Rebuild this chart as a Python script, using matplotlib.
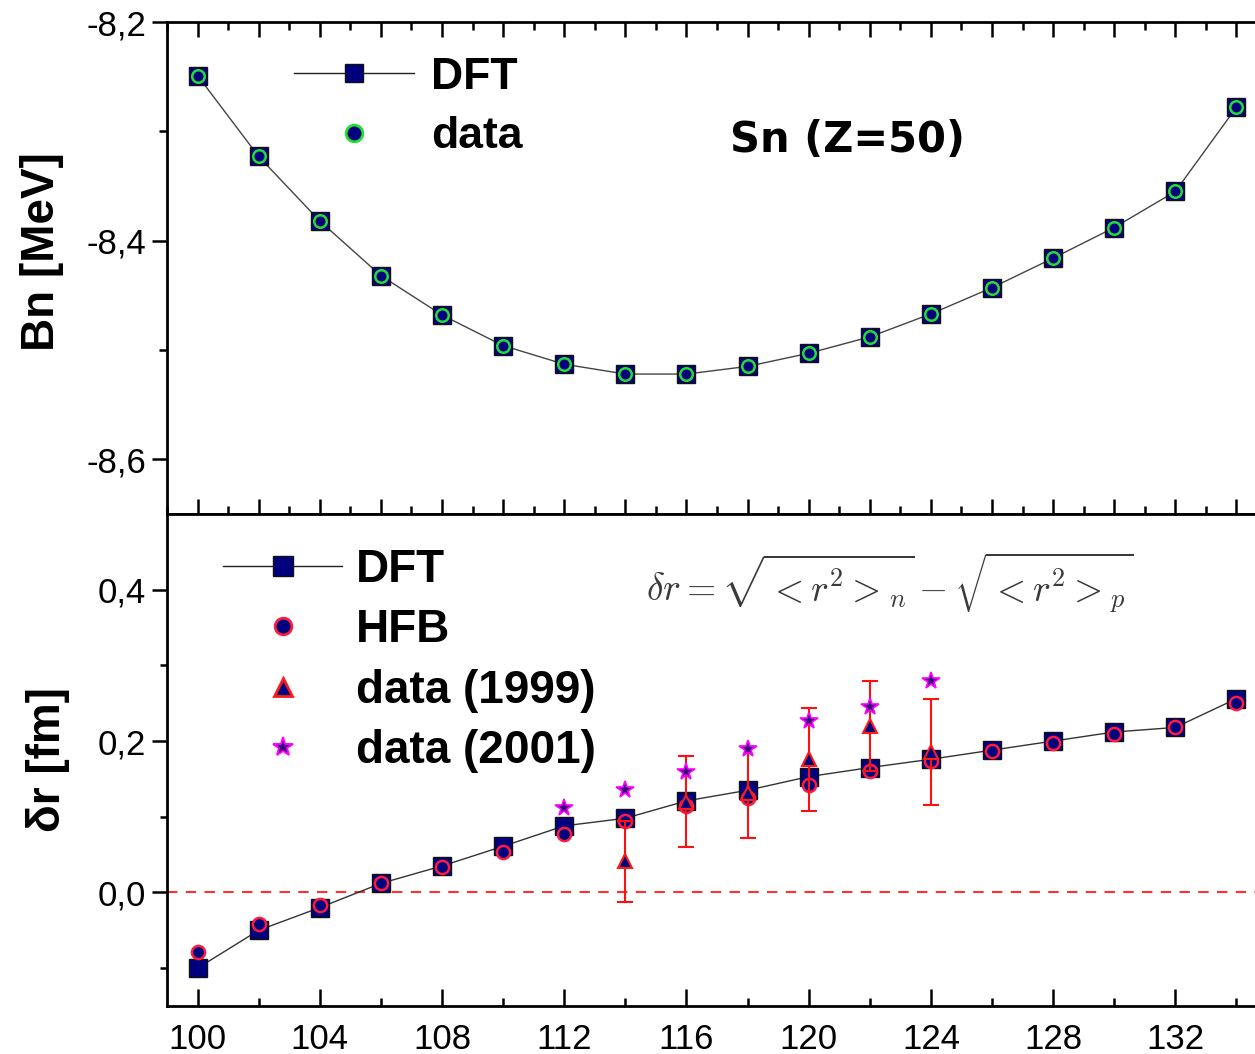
import matplotlib
matplotlib.use('Agg')
import matplotlib.pyplot as plt
from matplotlib.ticker import FixedLocator, MultipleLocator
from matplotlib.lines import Line2D

plt.rcParams['font.family'] = ['Liberation Sans', 'DejaVu Sans']
plt.rcParams['mathtext.fontset'] = 'cm'

# ---------------- data ----------------
N_top = [100, 102, 104, 106, 108, 110, 112, 114, 116, 118, 120, 122, 124, 126, 128, 130, 132, 134]
bn_dft = [-8.249, -8.323, -8.382, -8.432, -8.468, -8.496, -8.513, -8.522, -8.522,
          -8.515, -8.503, -8.488, -8.467, -8.443, -8.416, -8.388, -8.355, -8.278]
bn_data = [-8.249, -8.323, -8.382, -8.432, -8.468, -8.496, -8.513, -8.522, -8.522,
           -8.515, -8.503, -8.488, -8.467, -8.443, -8.416, -8.388, -8.355, -8.278]

N_bot = [100, 102, 104, 106, 108, 110, 112, 114, 116, 118, 120, 122, 124, 126, 128, 130, 132, 134]
dr_dft = [-0.100, -0.050, -0.020, 0.012, 0.035, 0.061, 0.088, 0.098, 0.121, 0.135,
          0.153, 0.165, 0.176, 0.188, 0.200, 0.212, 0.218, 0.256]
dr_hfb = [-0.079, -0.042, -0.016, 0.012, 0.034, 0.054, 0.077, 0.094, 0.114, 0.125,
          0.142, 0.161, 0.174, 0.187, 0.197, 0.209, 0.218, 0.250]
N_1999 = [114, 116, 118, 120, 122, 124]
dr_1999 = [0.041, 0.120, 0.132, 0.176, 0.220, 0.185]
err_1999 = [0.053, 0.060, 0.060, 0.068, 0.059, 0.070]
N_2001 = [112, 114, 116, 118, 120, 122, 124]
dr_2001 = [0.112, 0.136, 0.159, 0.190, 0.226, 0.245, 0.280]

top_yticks = [-8.2, -8.4, -8.6]
top_ylabels = ['-8,2', '-8,4', '-8,6']
bot_yticks = [0.0, 0.2, 0.4]
bot_ylabels = ['0,0', '0,2', '0,4']
bot_xticks = [100, 104, 108, 112, 116, 120, 124, 128, 132]
bot_xlabels = ['100', '104', '108', '112', '116', '120', '124', '128', '132']

# ---------------- figure ----------------
W, H = 1255, 1054
fig = plt.figure(figsize=(W / 100, H / 100), dpi=100)
L = 167 / W
Wd = 1100 / W
ax1 = fig.add_axes([L, 1 - 514 / H, Wd, 492 / H])
ax2 = fig.add_axes([L, 1 - 1006 / H, Wd, 492 / H])

navy = '#00007f'
spine_lw = 2.0
tick_fs = 25

# ---- top panel ----
ax1.plot(N_top, bn_dft, '-', color='#444444', lw=1.0, marker='s', ms=13,
         mfc=navy, mec='#111111', mew=1.0, zorder=2)
ax1.plot(N_top, bn_data, 'o', ms=9, mfc=navy, mec='#22dd33', mew=1.8, zorder=3)
ax1.set_xlim(99, 135)
ax1.set_ylim(-8.65, -8.2)
ax1.yaxis.set_major_locator(FixedLocator(top_yticks))
ax1.set_yticklabels(top_ylabels)
ax1.yaxis.set_minor_locator(FixedLocator([-8.3, -8.5]))
ax1.xaxis.set_major_locator(MultipleLocator(2))
ax1.xaxis.set_minor_locator(MultipleLocator(1))
ax1.tick_params(axis='x', which='both', direction='in', top=True, bottom=True,
                labelbottom=False, width=1.8)
ax1.tick_params(axis='x', which='major', length=11)
ax1.tick_params(axis='x', which='minor', length=6)
ax1.tick_params(axis='y', which='both', direction='out', right=False, width=1.8,
                labelsize=tick_fs, pad=4)
ax1.tick_params(axis='y', which='major', length=11)
ax1.tick_params(axis='y', which='minor', length=6)
for s in ax1.spines.values():
    s.set_linewidth(spine_lw)
ax1.set_ylabel('Bn [MeV]', fontsize=33, fontweight='bold')
ax1.yaxis.set_label_coords(-0.094, 0.5325)
ax1.text(0.512, 0.76, 'Sn (Z=50)', transform=ax1.transAxes, fontsize=30,
         fontweight='bold', family='DejaVu Sans', ha='left', va='center')
h_dft = Line2D([], [], color='#222222', lw=1.0, marker='s', ms=13, mfc=navy,
               mec='#111111', mew=1.0)
h_dat = Line2D([], [], ls='none', marker='o', ms=12, mfc=navy, mec='#22dd33', mew=2.0)
ax1.legend([h_dft, h_dat], ['DFT', 'data'], loc='upper left', frameon=False,
           bbox_to_anchor=(0.095, 0.975), handlelength=2.7,
           handletextpad=0.4, labelspacing=0.42, borderpad=0,
           prop={'weight': 'bold', 'size': 32})

# ---- bottom panel ----
ax2.axhline(0.0, color='#ff3030', lw=1.5, ls=(0, (5, 4)), zorder=1)
ax2.plot(N_bot, dr_dft, '-', color='#333333', lw=1.0, marker='s', ms=13,
         mfc=navy, mec='#111111', mew=1.0, zorder=2)
ax2.plot(N_bot, dr_hfb, 'o', ms=9.5, mfc=navy, mec='#ff1a40', mew=1.8, zorder=3)
ax2.errorbar(N_1999, dr_1999, yerr=err_1999, fmt='none', ecolor='#ff1010',
             elinewidth=1.5, capsize=6, capthick=1.5, zorder=4)
ax2.plot(N_1999, dr_1999, '^', ms=10, mfc=navy, mec='#ff1a1a', mew=1.5, zorder=5)
ax2.plot(N_2001, dr_2001, '*', ms=13, mfc='#3a0080', mec='#ff00ff', mew=1.2, zorder=6)
ax2.set_xlim(99, 135)
ax2.set_ylim(-0.15, 0.5)
ax2.xaxis.set_major_locator(FixedLocator(bot_xticks))
ax2.set_xticklabels(bot_xlabels)
ax2.xaxis.set_minor_locator(FixedLocator([102, 106, 110, 114, 118, 122, 126, 130, 134]))
ax2.yaxis.set_major_locator(FixedLocator(bot_yticks))
ax2.set_yticklabels(bot_ylabels)
ax2.yaxis.set_minor_locator(FixedLocator([-0.1, 0.1, 0.3]))
ax2.tick_params(axis='x', which='both', direction='in', top=False, width=1.8,
                labelsize=tick_fs, pad=12)
ax2.tick_params(axis='x', which='major', length=12)
ax2.tick_params(axis='x', which='minor', length=6)
ax2.tick_params(axis='y', which='both', direction='out', right=False, width=1.8,
                labelsize=tick_fs, pad=4)
ax2.tick_params(axis='y', which='major', length=11)
ax2.tick_params(axis='y', which='minor', length=5)
for s in ax2.spines.values():
    s.set_linewidth(spine_lw)
ax2.set_ylabel('δr [fm]', fontsize=33, fontweight='bold')
ax2.yaxis.set_label_coords(-0.088, 0.5)
ax2.text(0.657, 0.86, r'$\delta r = \sqrt{<r^2>_n} - \sqrt{<r^2>_p}$',
         transform=ax2.transAxes, fontsize=27, color='#3a3a3a', ha='center', va='center')
g_dft = Line2D([], [], color='#222222', lw=1.0, marker='s', ms=15, mfc=navy,
               mec='#111111', mew=1.0)
g_hfb = Line2D([], [], ls='none', marker='o', ms=12, mfc=navy, mec='#ff1a40', mew=2.0)
g_99 = Line2D([], [], ls='none', marker='^', ms=13, mfc=navy, mec='#ff1a1a', mew=2.0)
g_01 = Line2D([], [], ls='none', marker='*', ms=15, mfc='#3a0080', mec='#ff00ff', mew=1.4)
ax2.legend([g_dft, g_hfb, g_99, g_01], ['DFT', 'HFB', 'data (1999)', 'data (2001)'],
           loc='upper left', frameon=False, bbox_to_anchor=(0.03, 0.978),
           handlelength=2.6, handletextpad=0.3, labelspacing=0.36, borderpad=0,
           prop={'weight': 'bold', 'size': 33})

fig.savefig('out.png', dpi=100)
